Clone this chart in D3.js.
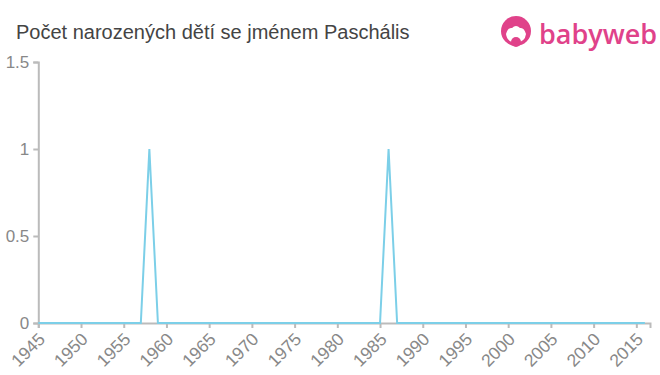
<!DOCTYPE html>
<html><head><meta charset="utf-8">
<script src="https://cdn.jsdelivr.net/npm/d3@7"></script>
<style>body{margin:0;background:#fff}svg{display:block;font-family:"Liberation Sans",Arial,sans-serif}</style>
</head><body><svg id="c" width="660" height="375"></svg>
<script>
const title = "Počet narozených dětí se jménem Paschális";
const years = d3.range(1945, 2017);
const peakYears = [1958, 1986];
const peakValues = [1, 1];
const values = years.map(y => { const i = peakYears.indexOf(y); return i >= 0 ? peakValues[i] : 0; });
const xTicks = [1945,1950,1955,1960,1965,1970,1975,1980,1985,1990,1995,2000,2005,2010,2015];
const yTicks = [0, 0.5, 1, 1.5];

const svg = d3.select("#c");
const x = d3.scaleLinear().domain([1945, 2016.6]).range([38.3, 650]);
const y = d3.scaleLinear().domain([0, 1.5]).range([323, 62]);

svg.append("text").attr("x", 16).attr("y", 39).style("font-size", "20px").attr("fill", "#444").text(title);

// logo
const lg = svg.append("g");
lg.append("circle").attr("cx", 516).attr("cy", 31).attr("r", 15).attr("fill", "#e0428a");
lg.append("path").attr("d", "M506,34 q2,-7 6,-6 q4,-4 8,0 q4,-1 6,6 q-1,8 -10,9 q-9,-1 -10,-9z").attr("fill", "#fff");
lg.append("circle").attr("cx", 516).attr("cy", 42).attr("r", 5).attr("fill", "#e0428a");
lg.append("text").attr("x", 539).attr("y", 44).style("font-size", "27px").style("font-family", "'Open Sans',sans-serif").attr("font-weight", 600).attr("fill", "#e0428a").text("babyweb");

// axes
const xa = svg.append("g").attr("transform", "translate(0,323)")
  .call(d3.axisBottom(x).tickValues(xTicks).tickFormat(d3.format("d")).tickSizeOuter(0).tickSize(5));
xa.attr("font-size", null).attr("font-family", null);
xa.select(".domain").attr("stroke", "#bbb").attr("stroke-width", 2);
xa.selectAll(".tick line").attr("stroke", "#bbb").attr("stroke-width", 2);
xa.selectAll(".tick text").attr("fill", "#888").style("font-size", "17.5px")
  .attr("text-anchor", "end").attr("x", 0).attr("y", 0).attr("dy", "0.35em")
  .attr("transform", "translate(3,13) rotate(-45)");

const ya = svg.append("g").attr("transform", "translate(38.3,0)")
  .call(d3.axisLeft(y).tickValues(yTicks).tickFormat(d => d).tickSizeOuter(0).tickSize(5));
ya.attr("font-size", null).attr("font-family", null);
ya.select(".domain").attr("stroke", "#bbb").attr("stroke-width", 2);
ya.selectAll(".tick line").attr("stroke", "#bbb").attr("stroke-width", 2);
ya.selectAll(".tick text").attr("fill", "#888").style("font-size", "17px").attr("x", -9);

svg.append("path").datum(years.map((yr, i) => [yr, values[i]]))
  .attr("fill", "none").attr("stroke", "#7ccfe8").attr("stroke-width", 2)
  .attr("d", d3.line().x(d => x(d[0])).y(d => y(d[1])));
</script></body></html>
